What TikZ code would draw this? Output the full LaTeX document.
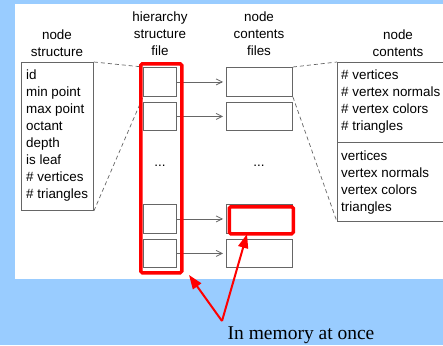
\documentclass[tikz,border=0pt]{standalone}
\usepackage{fontspec}
\setmainfont{Liberation Sans}
\newfontfamily\serifface{Liberation Serif}
\usetikzlibrary{arrows.meta}
\definecolor{skyblue}{HTML}{99CCFF}
\definecolor{linegray}{HTML}{666666}
\definecolor{hotred}{HTML}{FF0000}
\begin{document}
\begin{tikzpicture}[x=1pt,y=-1pt,
  txt/.style={font=\fontsize{13.4}{17}\selectfont, inner sep=0pt},
  head/.style={txt, align=center, anchor=north},
  list/.style={txt, align=left, anchor=north west},
  frame/.style={draw=linegray, line width=0.9pt, anchor=north west, inner sep=0pt},
  link/.style={draw=linegray, line width=0.8pt, -{Straight Barb[length=6pt,width=6pt]}, shorten >=3pt},
  zoomline/.style={draw=linegray, line width=0.7pt, dash pattern=on 4pt off 3pt},
  highlight/.style={draw=hotred, line width=3.5pt, rounded corners=1.5pt, anchor=north west, inner sep=0pt},
  pointer/.style={draw=hotred, line width=2pt, -{Triangle[length=14pt,width=10pt]}}
]
\useasboundingbox (0,0) rectangle (443,345);
\fill[skyblue] (0,0) rectangle (443,345);
\fill[white] (15,4) rectangle (446,279);

% column headers
\node[head] (hs) at (160,12) {hierarchy\\structure\\file};
\node[head] (ns) at (57,30) {node\\structure};
\node[head] (ncf) at (259,12) {node\\contents\\files};
\node[head] (nc) at (398,30) {node\\contents};

% node structure record
\node[frame, minimum width=72pt, minimum height=148pt] (rec) at (21,62) {};
\node[list] (rectxt) at (26,70)
  {id\\min point\\max point\\octant\\depth\\is leaf\\\# vertices\\\# triangles};

% hierarchy structure file slots
\node[frame, minimum width=33pt, minimum height=29pt] (h1) at (143,67) {};
\node[frame, minimum width=33pt, minimum height=28pt] (h2) at (143,102) {};
\node[frame, minimum width=33pt, minimum height=29pt] (h3) at (143,204) {};
\node[frame, minimum width=33pt, minimum height=28pt] (h4) at (143,239) {};
\node[txt] (hdots) at (160,166) {...};

% node contents files
\node[frame, minimum width=66pt, minimum height=29pt] (c1) at (226,67) {};
\node[frame, minimum width=66pt, minimum height=28pt] (c2) at (226,102) {};
\node[frame, minimum width=66pt, minimum height=29pt] (c3) at (226,204) {};
\node[frame, minimum width=66pt, minimum height=28pt] (c4) at (226,239) {};
\node[txt] (cdots) at (259,166) {...};

% node contents record: header counts above, arrays below
\node[frame, minimum width=109pt, minimum height=80pt] (ch) at (337,62) {};
\node[frame, minimum width=109pt, minimum height=79pt] (cd) at (337,142) {};
\node[list] (chtxt) at (341,70)
  {\# vertices\\\# vertex normals\\\# vertex colors\\\# triangles};
\node[list] (cdtxt) at (341,150.5)
  {vertices\\vertex normals\\vertex colors\\triangles};

% slot pointers
\draw[link] (h1.east) -- (c1.west);
\draw[link] (h2.east) -- (c2.west);
\draw[link] (h3.east) -- (c3.west);
\draw[link] (h4.east) -- (c4.west);

% zoom-out dashed guides
\draw[zoomline] (rec.north east) -- (h1.north west);
\draw[zoomline] (rec.south east) -- (h1.south west);
\draw[zoomline] (c1.north east) -- (ch.north west);
\draw[zoomline] (c1.south east) -- (cd.south west);

% resident parts
\node[highlight, minimum width=41pt, minimum height=209pt] (mem1) at (139,62) {};
\node[highlight, minimum width=64pt, minimum height=27pt] (mem2) at (227.5,205) {};

% annotation
\node[font=\serifface\fontsize{19.5}{20}\selectfont, inner sep=0pt, anchor=base] (note) at (301,339) {In memory at once};
\coordinate (fork) at (222,321);
\coordinate (tip1) at (189,275);
\coordinate (tip2) at (247,234);
\draw[pointer] (fork) -- (tip1);
\draw[pointer] (fork) -- (tip2);
\end{tikzpicture}
\end{document}
